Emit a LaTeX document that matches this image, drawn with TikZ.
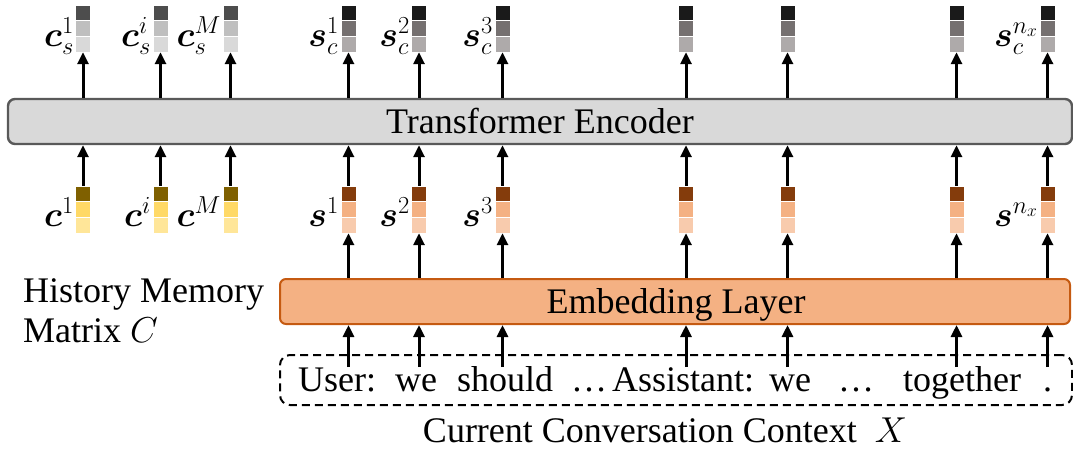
\RequirePackage{fix-cm}
\documentclass[tikz,border=0pt]{standalone}
\usepackage{bm}
\usepackage{fontspec}
\setmainfont{Liberation Serif}
\usetikzlibrary{arrows.meta}

\definecolor{encfill}{HTML}{D9D9D9}
\definecolor{encdraw}{HTML}{595959}
\definecolor{embfill}{HTML}{F4B183}
\definecolor{embdraw}{HTML}{C55A11}
% cell colours of the vectors
\definecolor{csA}{HTML}{4D4D4D}\definecolor{csB}{HTML}{BFBFBF}\definecolor{csC}{HTML}{D9D9D9}
\definecolor{scA}{HTML}{1A1A1A}\definecolor{scB}{HTML}{757070}\definecolor{scC}{HTML}{AEAAAA}
\definecolor{cA}{HTML}{7F6000}\definecolor{cB}{HTML}{FFD966}\definecolor{cC}{HTML}{FFE699}
\definecolor{sA}{HTML}{843C0C}\definecolor{sB}{HTML}{F4B183}\definecolor{sC}{HTML}{F8CBAD}

\tikzset{
  bigtext/.style={font=\fontsize{36}{45}\selectfont},
  mathlbl/.style={font=\fontsize{35}{40}\selectfont, inner sep=0pt},
  vecnode/.style={minimum width=15pt, minimum height=47pt, inner sep=0pt, draw=none},
  cell/.style={draw=white, line width=0.8pt},
  arr/.style={line width=3pt, -{Triangle[width=11pt,length=12pt]}},
  encbox/.style={draw=encdraw, fill=encfill, line width=2.4pt, rounded corners=7pt,
    minimum width=1064pt, minimum height=45pt, inner sep=0pt},
  embbox/.style={draw=embdraw, fill=embfill, line width=2pt, rounded corners=6pt,
    minimum width=790pt, minimum height=45pt, inner sep=0pt},
  ctxbox/.style={draw=black, dashed, dash pattern=on 8pt off 5pt, line width=2pt,
    rounded corners=10pt, minimum width=792pt, minimum height=50pt, inner sep=0pt},
  word/.style={bigtext, anchor=base west, inner sep=0pt},
}

% three-cell vector: name, x, top y, dark, mid, light
\newcommand\vecbar[6]{%
  \fill[#4,cell] (#2-7.5,#3) rectangle (#2+7.5,#3+15.67);
  \fill[#5,cell] (#2-7.5,#3+15.67) rectangle (#2+7.5,#3+31.33);
  \fill[#6,cell] (#2-7.5,#3+31.33) rectangle (#2+7.5,#3+47);
  \node[vecnode] (#1) at (#2,#3+23.5) {};
}

\begin{document}
\begin{tikzpicture}[x=1pt, y=-1pt]
\useasboundingbox (0,0) rectangle (1073,453);

% encoder and embedding blocks
\node[encbox] (enc) at (540,121.5) {};
\node[bigtext, anchor=base] (enctxt) at (540,133) {Transformer Encoder};
\node[embbox] (emb) at (675,301.5) {};
\node[bigtext, anchor=base] (embtxt) at (676,313) {Embedding Layer};

% output vectors
\vecbar{o1}{83}{5}{csA}{csB}{csC}
\vecbar{o2}{160.5}{5}{csA}{csB}{csC}
\vecbar{o3}{230.5}{5}{csA}{csB}{csC}
\vecbar{o4}{348.5}{5}{scA}{scB}{scC}
\vecbar{o5}{419}{5}{scA}{scB}{scC}
\vecbar{o6}{502.5}{5}{scA}{scB}{scC}
\vecbar{o7}{686}{5}{scA}{scB}{scC}
\vecbar{o8}{787.5}{5}{scA}{scB}{scC}
\vecbar{o9}{956.5}{5}{scA}{scB}{scC}
\vecbar{o10}{1047.5}{5}{scA}{scB}{scC}

% input vectors
\vecbar{i1}{83}{186}{cA}{cB}{cC}
\vecbar{i2}{160.5}{186}{cA}{cB}{cC}
\vecbar{i3}{230.5}{186}{cA}{cB}{cC}
\vecbar{i4}{348.5}{186}{sA}{sB}{sC}
\vecbar{i5}{419}{186}{sA}{sB}{sC}
\vecbar{i6}{502.5}{186}{sA}{sB}{sC}
\vecbar{i7}{686}{186}{sA}{sB}{sC}
\vecbar{i8}{787.5}{186}{sA}{sB}{sC}
\vecbar{i9}{956.5}{186}{sA}{sB}{sC}
\vecbar{i10}{1047.5}{186}{sA}{sB}{sC}

% vector labels
\node[mathlbl, anchor=base east] (lo1) at (74,46) {$\bm{c}_s^1$};
\node[mathlbl, anchor=base east] (lo2) at (151,46) {$\bm{c}_s^i$};
\node[mathlbl, anchor=base east] (lo3) at (221,46) {$\bm{c}_s^M$};
\node[mathlbl, anchor=base east] (lo4) at (339,46) {$\bm{s}_c^1$};
\node[mathlbl, anchor=base east] (lo5) at (410,46) {$\bm{s}_c^2$};
\node[mathlbl, anchor=base east] (lo6) at (493,46) {$\bm{s}_c^3$};
\node[mathlbl, anchor=base east] (lo10) at (1038,46) {$\bm{s}_c^{n_x}$};
\node[mathlbl, anchor=base east] (li1) at (74,226) {$\bm{c}^1$};
\node[mathlbl, anchor=base east] (li2) at (151,226) {$\bm{c}^i$};
\node[mathlbl, anchor=base east] (li3) at (221,226) {$\bm{c}^M$};
\node[mathlbl, anchor=base east] (li4) at (339,226) {$\bm{s}^1$};
\node[mathlbl, anchor=base east] (li5) at (410,226) {$\bm{s}^2$};
\node[mathlbl, anchor=base east] (li6) at (493,226) {$\bm{s}^3$};
\node[mathlbl, anchor=base east] (li10) at (1038,226) {$\bm{s}^{n_x}$};

% encoder to outputs, inputs to encoder
\foreach \k in {1,...,10} {
  \draw[arr] (enc.north -| o\k) -- (o\k.south);
  \draw[arr] (i\k.north) -- (i\k |- enc.south);
}
% embedding to token vectors
\foreach \k in {4,...,10} {
  \draw[arr] (emb.north -| i\k) -- (i\k.south);
}

% conversation context
\node[ctxbox] (ctx) at (676,380) {};
\node[word] (wuser) at (298,391) {User:};
\node[word] (wwe) at (395,391) {we};
\node[word] (wshould) at (457,391) {should};
\node[word] (wdots) at (571,391) {…};
\node[word] (wassist) at (612,391) {Assistant:};
\node[word] (wwe2) at (769,391) {we};
\node[word] (wdots2) at (838,391) {…};
\node[word] (wtogether) at (903,391) {together};
\node[word] (wstop) at (1043,391) {.};

% token anchors feeding the embedding layer
\foreach \k/\xx in {4/348.5,5/419,6/502.5,7/686,8/787.5,9/956.5,10/1047.5} {
  \coordinate (t\k) at (\xx,367);
  \draw[arr] (t\k) -- (t\k |- emb.south);
}

% captions
\node[bigtext, anchor=base west, inner sep=0pt] (hist) at (23,302) {History Memory};
\node[bigtext, anchor=base west, inner sep=0pt] (matx) at (23,342) {Matrix $C$};
\node[bigtext, anchor=base, inner sep=0pt] (ctxcap) at (665,442) {Current Conversation Context \ $X$};
\end{tikzpicture}
\end{document}
